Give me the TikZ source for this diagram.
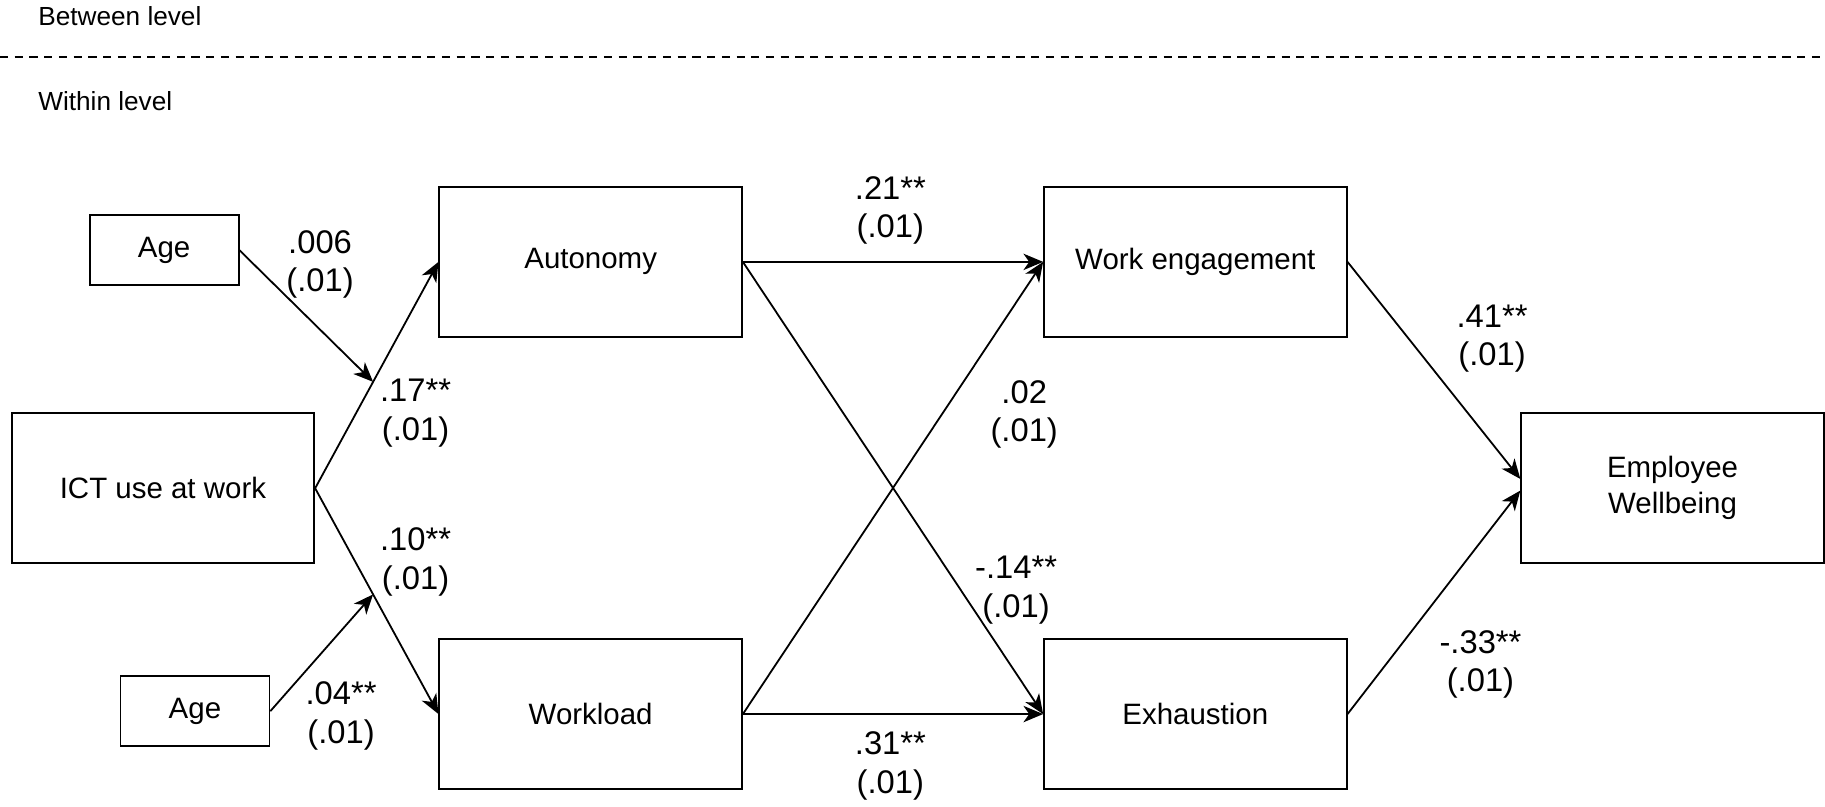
\documentclass[tikz,border=0pt]{standalone}
\usepackage{fontspec}
\setmainfont{Liberation Sans}
\usetikzlibrary{arrows.meta}
\begin{document}
\begin{tikzpicture}[x=0.025cm,y=-0.025cm,
 box/.style={draw,line width=1.1pt,minimum width=260*0.025cm,minimum height=129*0.025cm,inner sep=0pt,align=center,font=\fontsize{18}{22}\selectfont},
 sbox/.style={draw,line width=1.1pt,minimum width=128*0.025cm,minimum height=60*0.025cm,inner sep=0pt,font=\fontsize{18}{22}\selectfont},
 lab/.style={align=center,font=\fontsize{20}{23.5}\selectfont,inner sep=0pt},
 arr/.style={-{Stealth[length=12pt,width=10pt,inset=3.5pt]},line width=1.1pt}]
\useasboundingbox (0,0) rectangle (1568,693);
\node[anchor=west,font=\fontsize{16}{19}\selectfont] (bl) at (28,14) {Between level};
\node[anchor=west,font=\fontsize{16}{19}\selectfont] (wl) at (28,87) {Within level};
\coordinate (d1) at (0,49); \coordinate (d2) at (1568,49);
\draw[dashed,line width=0.9pt,dash pattern=on 5pt off 4pt] (d1) -- (d2);
\node[sbox] (age1) at (141,215) {Age};
\node[sbox] (age2) at (167.5,611) {Age};
\node[box] (ict) at (140,419.5) {ICT use at work};
\node[box] (aut) at (507.5,225) {Autonomy};
\node[box] (wl2) at (507.5,613.5) {Workload};
\node[box] (we) at (1027,225) {Work engagement};
\node[box] (ex) at (1027,613.5) {Exhaustion};
\node[box] (ew) at (1437,419.5) {Employee\\Wellbeing};
\draw[arr] (ict.east) -- (aut.west) coordinate[pos=0.47] (m1);
\draw[arr] (ict.east) -- (wl2.west) coordinate[pos=0.47] (m2);
\draw[arr] (age1.east) -- (m1);
\draw[arr] (age2.east) -- (m2);
\draw[arr] (aut.east) -- (we.west);
\draw[arr] (aut.east) -- (ex.west);
\draw[arr] (wl2.east) -- (we.west);
\draw[arr] (wl2.east) -- (ex.west);
\draw[arr] (we.east) -- ([yshift=0.2cm]ew.west);
\draw[arr] (ex.east) -- ([yshift=-0.05cm]ew.west);
\node[lab] (l1) at (275,227) {.006\\(.01)};
\node[lab] (l2) at (357,355) {.17**\\(.01)};
\node[lab] (l3) at (357,483) {.10**\\(.01)};
\node[lab] (l4) at (293,615) {.04**\\(.01)};
\node[lab] (l5) at (765,181) {.21**\\(.01)};
\node[lab] (l6) at (880,356) {.02\\(.01)};
\node[lab] (l7) at (873,507) {-.14**\\(.01)};
\node[lab] (l8) at (765,658) {.31**\\(.01)};
\node[lab] (l9) at (1282,291) {.41**\\(.01)};
\node[lab] (l10) at (1272,571) {-.33**\\(.01)};
\end{tikzpicture}
\end{document}
